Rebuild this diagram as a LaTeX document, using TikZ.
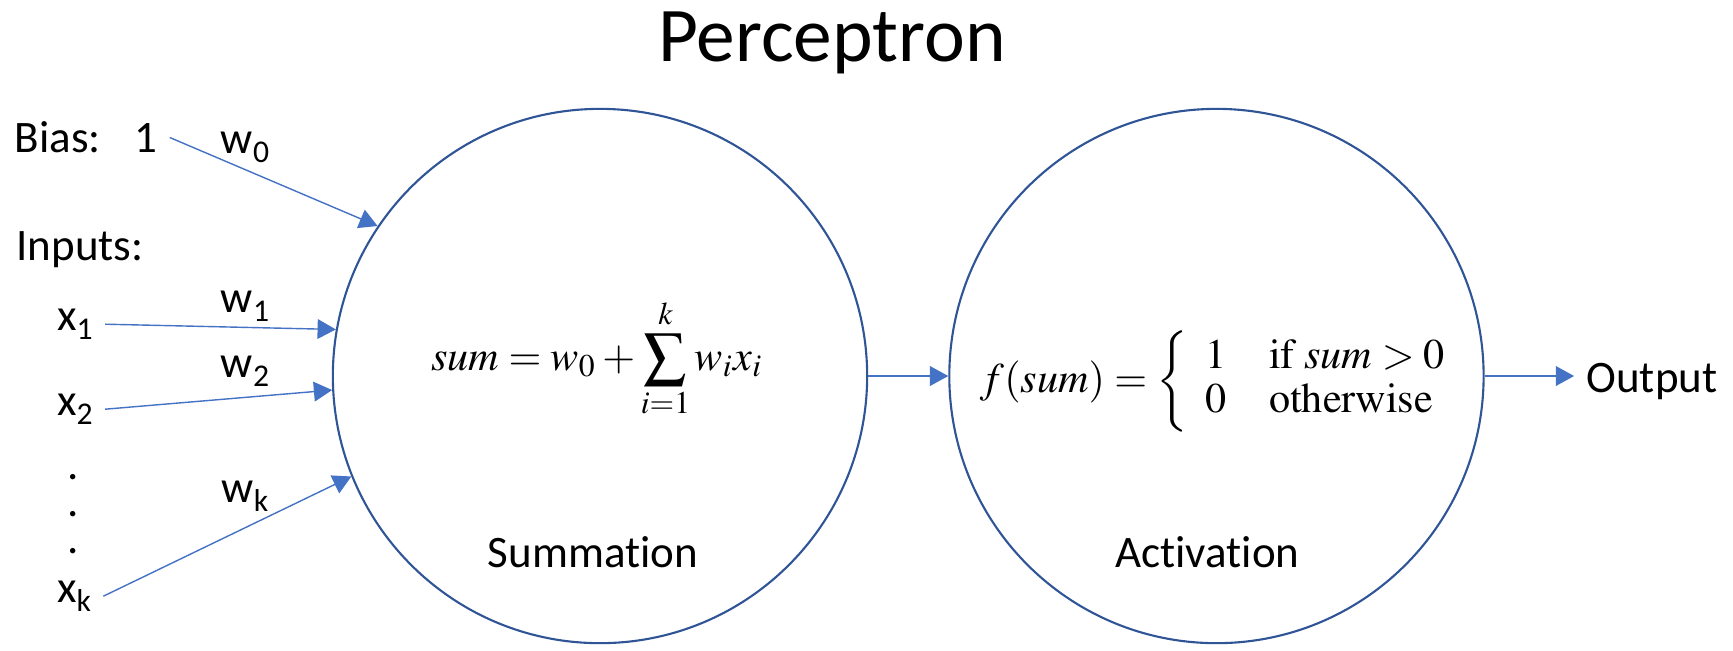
\documentclass[tikz,border=0pt]{standalone}
\usepackage{amsmath}
\usepackage{mathptmx}
\usepackage[no-math]{fontspec}
\setmainfont{Carlito}[Ligatures=NoCommon]
\usepackage{xcolor}
\usepackage{tikz}
\usetikzlibrary{arrows.meta, positioning}

\definecolor{ringblue}{RGB}{47,85,151}
\definecolor{arrowblue}{RGB}{68,114,196}

% lowered text subscript
\newcommand{\lowsub}[1]{\raisebox{-2.8pt}{\fontsize{9}{10}\selectfont #1}}

\begin{document}
\begin{tikzpicture}[
        x=0.01cm, y=-0.01cm,
        neuron/.style={circle, minimum size=5.34cm, inner sep=0pt, draw=ringblue, line width=0.6pt},
        txt/.style={font=\fontsize{12.8}{15.4}\selectfont, anchor=base},
        eqn/.style={font=\fontsize{12}{14.5}\selectfont, anchor=base},
        arrow/.style={arrowblue, line width=0.4pt, -{Triangle[length=5.2pt,width=5.6pt]}}
        ]

        \useasboundingbox (0,0) rectangle (1733,650);

        \node (title) [txt, font=\fontsize{22}{26}\selectfont] at (832,61) {Perceptron};

        % the two units
        \node (sum) [neuron] at (600,376) {};
        \node (act) [neuron, right=0.8cm of sum] {};

        \node (sumeq) [eqn] at ([xshift=-0.03cm, yshift=0.06cm]sum.center)
            {$\displaystyle \mathit{sum} = w_0 + \sum_{i=1}^{k} w_i x_i$};
        \node (acteq) [eqn] at ([xshift=0.07cm, yshift=-0.16cm]act.center)
            {\renewcommand{\arraystretch}{0.88}$f(\mathit{sum}) = \left\{ \begin{array}{l@{\quad}l}
                1 & \mathrm{if}\ \mathit{sum} > 0\\
                0 & \mathrm{otherwise}
            \end{array}\right.$};

        \node (summ) [txt] at ([xshift=-0.07cm, yshift=-1.91cm]sum.center) {Summation};
        \node (actn) [txt] at ([xshift=-0.09cm, yshift=-1.91cm]act.center) {Activation};

        % inputs and weights
        \node (bias) [txt] at (58,152) {Bias:};
        \node (one) [txt] at (146,152) {1};
        \node (inputs) [txt] at (80,260) {Inputs:};
        \node (x1) [txt] at (75,330) {x\lowsub{1}};
        \node (x2) [txt] at (75,415) {x\lowsub{2}};
        \foreach \y [count=\i] in {479,516,553}
            \node (dot\i) [txt, inner sep=0pt] at (73,\y) {.};
        \node (xk) [txt] at (74,602) {x\lowsub{k}};

        \node (w0) [txt] at (245,153) {w\lowsub{0}};
        \node (w1) [txt] at (245,312) {w\lowsub{1}};
        \node (w2) [txt] at (245,377) {w\lowsub{2}};
        \node (wk) [txt] at (245,502) {w\lowsub{k}};

        \node (out) [txt] at (1652,392) {Output};

        \draw [arrow] (one.east) -- (sum.146);
        \draw [arrow] (x1.east) -- (sum.170);
        \draw [arrow] (x2.east) -- (sum.183);
        \draw [arrow] (xk.east) -- (sum.202);
        \draw [arrow] (sum) -- (act);
        \draw [arrow] (act.east) -- (act.east -| out.west);

\end{tikzpicture}
\end{document}
